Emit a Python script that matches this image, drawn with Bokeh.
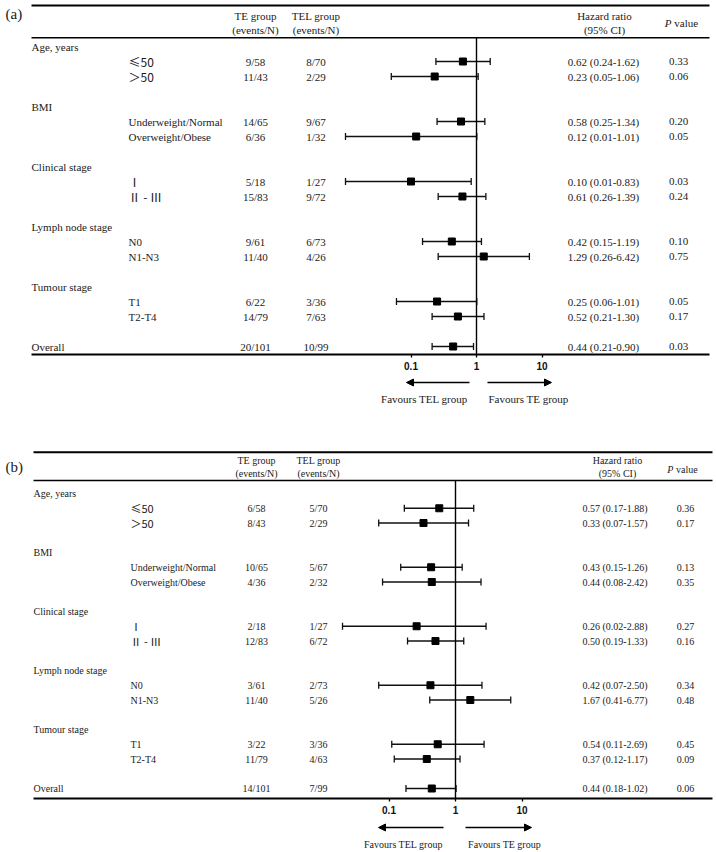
from bokeh.plotting import figure
from bokeh.models import (Range1d, LinearScale, LogAxis, FixedTicker, NumeralTickFormatter,
                          ColumnDataSource, Whisker, TeeHead, Arrow, NormalHead)
from bokeh.layouts import column
from bokeh.core.properties import value
from bokeh.embed import file_html
from bokeh.resources import INLINE

# ---------------- data ----------------
groups = ["Age, years", "BMI", "Clinical stage", "Lymph node stage", "Tumour stage"]
subgroups = [["≤50", "＞50"], ["Underweight/Normal", "Overweight/Obese"],
             ["Ⅰ", "Ⅱ - Ⅲ"], ["N0", "N1-N3"], ["T1", "T2-T4"]]
overall_label = "Overall"
ticks = [0.1, 1, 10]

a_te = ["9/58", "11/43", "14/65", "6/36", "5/18", "15/83", "9/61", "11/40", "6/22", "14/79", "20/101"]
a_tel = ["8/70", "2/29", "9/67", "1/32", "1/27", "9/72", "6/73", "4/26", "3/36", "7/63", "10/99"]
a_hr = [0.62, 0.23, 0.58, 0.12, 0.10, 0.61, 0.42, 1.29, 0.25, 0.52, 0.44]
a_lo = [0.24, 0.05, 0.25, 0.01, 0.01, 0.26, 0.15, 0.26, 0.06, 0.21, 0.21]
a_hi = [1.62, 1.06, 1.34, 1.01, 0.83, 1.39, 1.19, 6.42, 1.01, 1.30, 0.90]
a_p = ["0.33", "0.06", "0.20", "0.05", "0.03", "0.24", "0.10", "0.75", "0.05", "0.17", "0.03"]

b_te = ["6/58", "8/43", "10/65", "4/36", "2/18", "12/83", "3/61", "11/40", "3/22", "11/79", "14/101"]
b_tel = ["5/70", "2/29", "5/67", "2/32", "1/27", "6/72", "2/73", "5/26", "3/36", "4/63", "7/99"]
b_hr = [0.57, 0.33, 0.43, 0.44, 0.26, 0.50, 0.42, 1.67, 0.54, 0.37, 0.44]
b_lo = [0.17, 0.07, 0.15, 0.08, 0.02, 0.19, 0.07, 0.41, 0.11, 0.12, 0.18]
b_hi = [1.88, 1.57, 1.26, 2.42, 2.88, 1.33, 2.50, 6.77, 2.69, 1.17, 1.02]
b_p = ["0.36", "0.17", "0.13", "0.35", "0.27", "0.16", "0.34", "0.48", "0.45", "0.09", "0.06"]

SERIF = "Liberation Serif"
CJK = "Noto Sans CJK SC"
SANS = "Liberation Sans"
TXT = "#1a1a1a"
W = 714


def panel(tag, te, tel, hr, lo, hi, pv, L):
    H = L["H"]
    one, ppd = L["one"], L["ppd"]
    p = figure(width=W, height=H, x_axis_type="log",
               x_range=Range1d(10 ** ((0 - one) / ppd), 10 ** ((W - one) / ppd)),
               y_range=Range1d(H, 0), min_border=0,
               x_axis_location=None, y_axis_location=None,
               toolbar_location=None, output_backend="svg",
               outline_line_color=None, background_fill_color="white",
               border_fill_color="white")
    p.xgrid.grid_line_color = None
    p.ygrid.grid_line_color = None
    p.extra_x_ranges = {"px": Range1d(0, W)}
    p.extra_x_scales = {"px": LinearScale()}
    fs = L["fs"]

    def txt(x, y, t, align="left", font=SERIF, size=None, style="normal", color=TXT):
        p.text(x=x, y=y, text=t, x_range_name="px", text_align=align,
               text_baseline="middle", text_font=value(font),
               text_font_size=size or fs, text_font_style=style, text_color=color)

    # panel tag
    txt([L["tag_x"]], [L["tag_y"]], [tag], size="15px")

    # rules
    p.segment(x0=[L["rule_x0"]], x1=[L["rule_x1"]], y0=[L["top"]], y1=[L["top"]],
              x_range_name="px", line_color="black", line_width=2)
    p.segment(x0=[L["rule_x0"]], x1=[L["rule_x1"]], y0=[L["hdr"]], y1=[L["hdr"]],
              x_range_name="px", line_color="black", line_width=1.6)
    p.segment(x0=[L["rule_x0"]], x1=[L["rule_x1"]], y0=[L["bot"]], y1=[L["bot"]],
              x_range_name="px", line_color="black", line_width=2)

    # headers
    h1, h2 = L["h1"], L["h2"]
    txt([L["te_x"], L["tel_x"], L["hrh_x"]], [h1] * 3, ["TE group", "TEL group", "Hazard ratio"], align="center")
    txt([L["te_x"], L["tel_x"], L["hrh_x"]], [h2] * 3, ["(events/N)", "(events/N)", "(95% CI)"], align="center")
    fpx = float(fs.replace("px", ""))
    pw = 0.611 * fpx
    vw = 2.416 * fpx
    start = L["pvh_x"] - (pw + vw) / 2
    txt([start], [L["ph_y"]], ["P"], style="italic")
    txt([start + pw + 0.25 * fpx], [L["ph_y"]], ["value"])

    # row positions (layout)
    y0, step = L["y0"], L["step"]
    head_y, sub_y, k = [], [], 0
    for subs in subgroups:
        head_y.append(y0 + k * step)
        k += 1
        for _ in subs:
            sub_y.append(y0 + k * step)
            k += 1
        k += 1
    over_y = y0 + k * step
    all_y = sub_y + [over_y]
    sub_labels = [s for subs in subgroups for s in subs]

    txt([L["cat_x"]] * len(groups), head_y, groups)
    txt([L["cat_x"]], [over_y], [overall_label])
    cjk_i = [i for i, s in enumerate(sub_labels) if not s.isascii()]
    lat_i = [i for i, s in enumerate(sub_labels) if s.isascii()]
    txt([L["sub_x"]] * len(lat_i), [sub_y[i] for i in lat_i], [sub_labels[i] for i in lat_i])
    txt([L["sub_x"]] * len(cjk_i), [sub_y[i] for i in cjk_i], [sub_labels[i] for i in cjk_i],
        font=CJK, size=L["cjk_fs"])
    n = len(all_y)
    txt([L["te_x"]] * n, all_y, te, align="center")
    txt([L["tel_x"]] * n, all_y, tel, align="center")
    hr_txt = [f"{h:.2f} ({a:.2f}-{b:.2f})" for h, a, b in zip(hr, lo, hi)]
    txt([L["hr_x"]] * n, all_y, hr_txt, align="center")
    txt([L["p_x"]] * n, all_y, pv, align="center")

    # forest
    p.segment(x0=[1], x1=[1], y0=[L["hdr"]], y1=[L["bot"]], line_color="black", line_width=1.4)
    src = ColumnDataSource(dict(y=all_y, hr=hr, lo=lo, hi=hi))
    wk = Whisker(source=src, base="y", lower="lo", upper="hi", dimension="width",
                 line_color="#111111", line_width=1.3,
                 lower_head=TeeHead(size=7, line_width=1.3, line_color="#111111"),
                 upper_head=TeeHead(size=7, line_width=1.3, line_color="#111111"))
    p.add_layout(wk)
    p.scatter(x="hr", y="y", source=src, marker="square", size=7, color="black")

    # axis
    ax = LogAxis(ticker=FixedTicker(ticks=ticks, minor_ticks=[]),
                 formatter=NumeralTickFormatter(format="0.[0]"),
                 fixed_location=L["bot"], axis_line_color=None,
                 major_tick_in=0, major_tick_out=3, major_tick_line_width=1.3,
                 minor_tick_in=0, minor_tick_out=0,
                 major_label_standoff=4,
                 major_label_text_font=SANS, major_label_text_font_style="bold",
                 major_label_text_font_size="10px", major_label_text_color="#111111")
    p.add_layout(ax, "below")

    # arrows and captions
    for xs, xe in L["arrows"]:
        p.add_layout(Arrow(x_start=xs, y_start=L["arr_y"], x_end=xe, y_end=L["arr_y"],
                           x_range_name="px", line_width=1.5, line_color="black",
                           end=NormalHead(size=7, fill_color="black", line_color="black")))
    txt(L["fav_x"], [L["fav_y"]] * 2, ["Favours TEL group", "Favours TE group"], align="center")
    return p


LA = dict(H=414, one=476, ppd=65.5, fs="11px", cjk_fs="12px", tag_x=5, tag_y=13,
          rule_x0=31, rule_x1=709, top=5, hdr=37.3, bot=354, h1=15.7, h2=29, ph_y=22.7,
          y0=46, step=15, cat_x=31, sub_x=128, te_x=255, tel_x=315.5,
          hrh_x=604, hr_x=603, pvh_x=681, p_x=678,
          arrows=[(469, 406), (487, 551)], arr_y=382, fav_x=[424, 528], fav_y=398)

LB = dict(H=436, one=455, ppd=66.5, fs="10px", cjk_fs="11px", tag_x=5, tag_y=52.7,
          rule_x0=33, rule_x1=712, top=37.7, hdr=66, bot=384, h1=46, h2=59, ph_y=55,
          y0=79, step=14.75, cat_x=33, sub_x=130, te_x=256, tel_x=318,
          hrh_x=617, hr_x=614.5, pvh_x=682, p_x=685,
          arrows=[(443, 378), (465, 531)], arr_y=413, fav_x=[403, 504], fav_y=430)

pa = panel("(a)", a_te, a_tel, a_hr, a_lo, a_hi, a_p, LA)
pb = panel("(b)", b_te, b_tel, b_hr, b_lo, b_hi, b_p, LB)

layout = column(pa, pb, spacing=0)
open("out.html", "w").write(file_html(layout, INLINE))
